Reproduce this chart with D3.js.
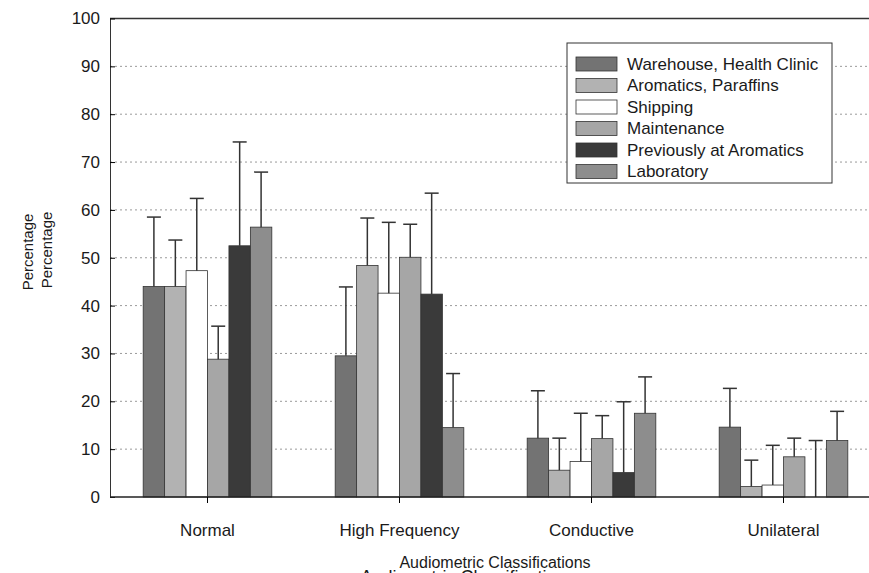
<!DOCTYPE html>
<html lang="en">

<head>
  <meta charset="UTF-8">
  <script src="https://cdnjs.cloudflare.com/ajax/libs/d3/7.8.5/d3.min.js"></script>
  <title>Audiometric classifications</title>
  <style>
    body { margin: 0; background: #fff; }
    text { font-family: "Liberation Sans", Arial, sans-serif; fill: #1a1a1a; }
  </style>
</head>

<body>
  <div id="chart"></div>
  <script>
    const categories = ['Normal', 'High Frequency', 'Conductive', 'Unilateral'];
    const groups = ['Warehouse, Health Clinic', 'Aromatics, Paraffins', 'Shipping',
      'Maintenance', 'Previously at Aromatics', 'Laboratory'];
    const colors = ['#737373', '#b2b2b2', '#ffffff', '#a6a6a6', '#3a3a3a', '#8d8d8d'];

    // bar heights, one array per group (Normal, High Frequency, Conductive, Unilateral)
    const warehouse = [44, 29.5, 12.3, 14.6];
    const aromatics = [44, 48.4, 5.6, 2.2];
    const shipping = [47.3, 42.6, 7.4, 2.5];
    const maintenance = [28.8, 50.1, 12.2, 8.4];
    const previously = [52.5, 42.4, 5.1, 0];
    const laboratory = [56.4, 14.5, 17.5, 11.8];

    // top of the error bars
    const warehouseErr = [58.5, 43.9, 22.2, 22.7];
    const aromaticsErr = [53.7, 58.3, 12.3, 7.7];
    const shippingErr = [62.4, 57.4, 17.5, 10.8];
    const maintenanceErr = [35.7, 57, 17, 12.3];
    const previouslyErr = [74.2, 63.5, 19.9, 11.8];
    const laboratoryErr = [67.9, 25.8, 25.1, 17.9];

    const yTicks = [0, 10, 20, 30, 40, 50, 60, 70, 80, 90, 100];

    const values = [warehouse, aromatics, shipping, maintenance, previously, laboratory];
    const errs = [warehouseErr, aromaticsErr, shippingErr, maintenanceErr, previouslyErr, laboratoryErr];

    const W = 869, H = 573;
    const margin = { top: 18.5, left: 110 };
    const height = 497 - margin.top;

    const svg = d3.select('#chart')
      .append('svg')
      .attr('width', W)
      .attr('height', H)
      .append('g')
      .attr('transform', `translate(${margin.left}, ${margin.top})`);

    const x0 = d3.scaleBand()
      .domain(categories)
      .range([1.5, 769.5])
      .paddingInner(0.33)
      .paddingOuter(0.165);
    const x1 = d3.scaleBand()
      .domain(groups)
      .range([0, x0.bandwidth()]);
    const y = d3.scaleLinear()
      .domain([0, 100])
      .range([height, 0]);

    // dotted grid
    svg.append('g')
      .selectAll('line')
      .data(yTicks.filter(t => t > 0 && t < 100))
      .join('line')
      .attr('x1', 0)
      .attr('x2', W)
      .attr('y1', d => y(d))
      .attr('y2', d => y(d))
      .attr('stroke', '#9a9a9a')
      .attr('stroke-width', 1)
      .attr('stroke-dasharray', '2,3');

    // top frame line
    svg.append('line')
      .attr('x1', 0).attr('x2', W)
      .attr('y1', y(100)).attr('y2', y(100))
      .attr('stroke', '#333')
      .attr('stroke-width', 1.3);

    // bars
    const rows = [];
    categories.forEach((c, ci) => {
      groups.forEach((g, gi) => {
        rows.push({ cat: c, grp: g, gi: gi, v: values[gi][ci], e: errs[gi][ci] });
      });
    });

    svg.append('g')
      .selectAll('rect')
      .data(rows)
      .join('rect')
      .attr('x', d => x0(d.cat) + x1(d.grp))
      .attr('y', d => y(d.v))
      .attr('width', x1.bandwidth())
      .attr('height', d => height - y(d.v))
      .attr('fill', d => colors[d.gi])
      .attr('stroke', '#333')
      .attr('stroke-width', 0.8);

    // error bars
    const eb = svg.append('g')
      .selectAll('g')
      .data(rows)
      .join('g')
      .attr('transform', d => `translate(${x0(d.cat) + x1(d.grp) + x1.bandwidth() / 2}, 0)`);
    eb.append('line')
      .attr('y1', d => y(d.v))
      .attr('y2', d => y(d.e))
      .attr('stroke', '#333')
      .attr('stroke-width', 1.5);
    eb.append('line')
      .attr('x1', -7).attr('x2', 7)
      .attr('y1', d => y(d.e))
      .attr('y2', d => y(d.e))
      .attr('stroke', '#333')
      .attr('stroke-width', 1.5);

    // axes
    const yAxis = svg.append('g')
      .call(d3.axisLeft(y).tickValues(yTicks).tickSizeInner(-5).tickSizeOuter(0).tickPadding(10));
    yAxis.selectAll('text').style('font-size', '17px');
    yAxis.select('.domain').attr('stroke', '#333');

    const xAxis = svg.append('g')
      .attr('transform', `translate(0, ${height})`)
      .call(d3.axisBottom(x0).tickSize(6).tickPadding(21));
    xAxis.select('.domain').attr('d', `M0,0H${W}`).attr('stroke', '#222').attr('stroke-width', 1.5);
    xAxis.selectAll('text').style('font-size', '17px');

    // axis titles (the scan shows each one twice)
    svg.append('text')
      .attr('transform', `translate(${28 - margin.left}, ${252 - margin.top}) rotate(-90)`)
      .attr('text-anchor', 'middle')
      .attr('dy', '0.35em')
      .style('font-size', '15px')
      .text('Percentage');
    svg.append('text')
      .attr('transform', `translate(${47 - margin.left}, ${250 - margin.top}) rotate(-90)`)
      .attr('text-anchor', 'middle')
      .attr('dy', '0.35em')
      .style('font-size', '15px')
      .text('Percentage');
    svg.append('text')
      .attr('x', 495 - margin.left)
      .attr('y', 568 - margin.top)
      .attr('text-anchor', 'middle')
      .style('font-size', '16px')
      .text('Audiometric Classifications');
    svg.append('text')
      .attr('x', 468 - margin.left)
      .attr('y', 583 - margin.top)
      .attr('text-anchor', 'middle')
      .style('font-size', '18px')
      .text('Audiometric Classifications');

    // legend
    const legend = svg.append('g')
      .attr('transform', `translate(${567 - margin.left}, ${43 - margin.top})`);
    legend.append('rect')
      .attr('width', 265)
      .attr('height', 140)
      .attr('fill', '#fff')
      .attr('stroke', '#333');
    const item = legend.selectAll('g')
      .data(groups)
      .join('g')
      .attr('transform', (d, i) => `translate(9, ${14 + i * 21.5})`);
    item.append('rect')
      .attr('width', 41)
      .attr('height', 14)
      .attr('fill', (d, i) => colors[i])
      .attr('stroke', '#333')
      .attr('stroke-width', 0.8);
    item.append('text')
      .attr('x', 51)
      .attr('y', 7)
      .attr('dy', '0.35em')
      .style('font-size', '17px')
      .text(d => d);
  </script>
</body>

</html>
